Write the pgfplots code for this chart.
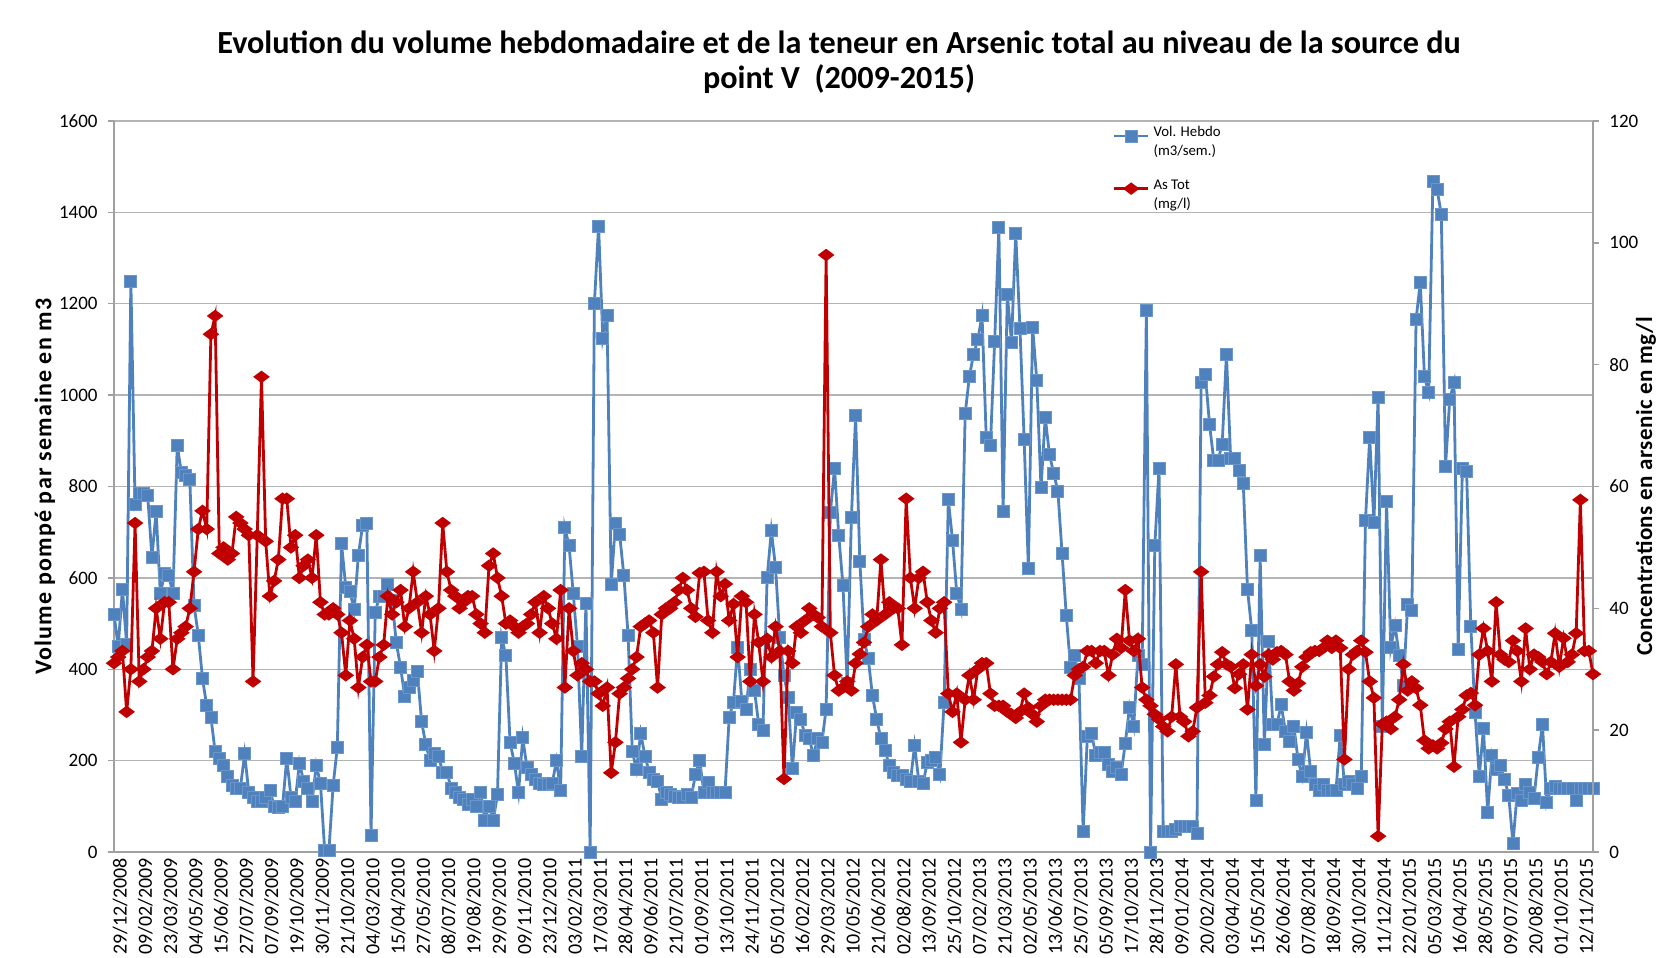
\documentclass[border=0pt]{standalone}
\usepackage{pgfplots}
\pgfplotsset{compat=1.18}
\usepackage{pgfplotstable}
\usepackage{fontspec}
\setmainfont{Carlito}
\definecolor{volblue}{HTML}{4F81BD}
\definecolor{voledge}{HTML}{6A96CC}
\definecolor{asred}{HTML}{C00000}
\definecolor{gridgray}{HTML}{B4B4B4}
\definecolor{axisgray}{HTML}{A0A0A0}

\pgfplotstableread[row sep=\\]{v\\
520\\450\\575\\455\\1250\\760\\785\\785\\780\\645\\
745\\565\\610\\605\\565\\890\\830\\825\\815\\540\\
475\\380\\320\\295\\220\\205\\190\\165\\145\\140\\
140\\215\\130\\120\\110\\110\\120\\135\\100\\98\\
100\\205\\120\\110\\195\\155\\140\\110\\190\\150\\
3\\3\\145\\230\\675\\580\\570\\530\\650\\715\\
720\\37\\525\\560\\560\\585\\550\\458\\405\\340\\
360\\375\\395\\285\\235\\200\\215\\210\\175\\175\\
140\\130\\120\\115\\105\\115\\100\\130\\70\\100\\
70\\125\\470\\430\\240\\195\\130\\250\\185\\170\\
160\\150\\148\\148\\150\\200\\135\\710\\670\\565\\
450\\210\\545\\0\\1200\\1370\\1125\\1175\\585\\720\\
695\\605\\475\\220\\180\\260\\210\\175\\160\\155\\
115\\130\\125\\122\\120\\120\\125\\120\\170\\200\\
130\\153\\131\\131\\131\\131\\295\\328\\448\\330\\
313\\400\\353\\280\\266\\601\\703\\623\\470\\386\\
339\\182\\306\\291\\255\\248\\211\\248\\240\\313\\
743\\840\\692\\583\\370\\732\\955\\637\\466\\423\\
342\\291\\248\\222\\189\\175\\168\\168\\160\\155\\
233\\155\\150\\196\\200\\207\\170\\327\\771\\682\\
567\\531\\959\\1041\\1090\\1121\\1175\\907\\891\\1118\\
1367\\745\\1220\\1116\\1354\\1147\\902\\620\\1149\\1032\\
797\\952\\870\\829\\790\\653\\517\\405\\431\\379\\
45\\254\\259\\212\\217\\217\\191\\176\\186\\170\\
238\\317\\275\\431\\411\\1186\\0\\670\\839\\45\\
45\\45\\50\\55\\55\\55\\55\\40\\1027\\1045\\
935\\857\\857\\893\\1090\\862\\862\\835\\806\\575\\
486\\113\\649\\235\\461\\280\\280\\322\\264\\243\\
275\\202\\165\\261\\176\\149\\134\\149\\134\\134\\
134\\256\\149\\155\\149\\139\\165\\726\\907\\722\\
996\\275\\768\\447\\496\\431\\364\\541\\528\\1165\\
1247\\1040\\1006\\1468\\1450\\1395\\845\\991\\1027\\444\\
839\\834\\494\\306\\165\\270\\87\\212\\181\\189\\
160\\123\\19\\129\\113\\149\\130\\118\\207\\280\\
108\\140\\144\\139\\139\\139\\139\\113\\139\\139\\139\\139\\
}\voldata

\pgfplotstableread[row sep=\\]{v\\
31\\32\\33\\23\\30\\54\\28\\30\\32\\33\\
40\\35\\41\\41\\30\\35\\36\\37\\40\\46\\
53\\56\\53\\85\\88\\49\\50\\48\\49\\55\\
54\\53\\52\\28\\52\\78\\51\\42\\44.5\\48\\
58\\58\\50\\52\\45\\47\\48\\45\\52\\41\\
39\\39\\40\\39\\36\\29\\38\\35\\27\\32\\
34\\28\\28\\32\\34\\42\\39\\41\\43\\37\\
40\\46\\41\\36\\42\\39\\33\\40\\54\\46\\
43\\42\\40\\41\\42\\42\\39\\37.5\\36\\47\\
49\\45\\42\\37.5\\38\\37\\36\\37\\37.5\\39\\
41\\36\\42\\40\\37.5\\35\\43\\27\\40\\33\\
29\\31\\30\\28\\28\\26\\24\\27\\13\\18\\
26\\27\\28.5\\30\\32\\37\\37.5\\38\\36\\27\\
39\\40\\40\\41\\43\\45\\43\\40\\38.6\\45.8\\
46\\38\\36\\46\\42\\44\\38\\40.7\\32\\42\\
41\\28\\39\\34.4\\28\\35\\32\\37\\33\\12\\
33\\31\\37\\36\\38\\40\\39\\38.5\\37\\98\\
36\\29\\26.5\\27\\28\\26.5\\31\\32.5\\34.4\\37\\
39\\38\\48\\39\\41\\40\\40\\34\\58\\45\\
40\\45\\46\\41\\38\\36\\40\\41\\26\\23\\
26\\18\\25\\29\\25\\30\\31\\31\\26\\24\\
24\\24\\23\\22.6\\22\\23\\26\\23.7\\22.6\\21.4\\
24\\25\\25\\25\\25\\25\\25\\25\\29\\30\\
30.4\\33\\33\\31\\33\\33\\29\\32.4\\35\\33.5\\
43\\34.7\\33\\35\\27\\25\\24\\22.6\\21.8\\20.6\\
19.8\\22.2\\30.8\\22.2\\21.4\\19\\19.8\\23.7\\46\\24.5\\
25.7\\28.8\\30.8\\32.8\\30.8\\30.4\\26.9\\29.2\\30.8\\23.4\\
32.4\\27.3\\30.8\\28.8\\32.4\\31.6\\32.8\\33\\32.4\\28\\
26.5\\27.7\\30.4\\32\\32.8\\33\\33\\33.5\\34.7\\33.5\\
34.7\\33.5\\15.2\\30\\32.4\\33\\34.7\\32.8\\28\\25.3\\
2.6\\21\\21.4\\20.2\\22.2\\25\\30.8\\26.5\\28\\26.9\\
24.1\\18.3\\17\\17.5\\17\\17.9\\20.2\\21.4\\14\\22.2\\
23.4\\25.7\\26.1\\24.1\\32.4\\36.7\\33\\28\\41\\32.4\\
31.6\\31.2\\34.7\\33\\28\\36.7\\30\\32.4\\32\\31.2\\
29.2\\31.2\\35.9\\30.4\\35.1\\31.2\\32.4\\35.9\\57.8\\33\\33\\29.2\\
}\asdata

\begin{document}
\begin{tikzpicture}
\pgfplotsset{
  common/.style={
    scale only axis, width=739.5bp, height=365.5bp,
    at={(0,0)}, anchor=south west,
    xmin=0, xmax=351, clip=false,
    axis line style={draw=axisgray, line width=0.7bp},
    tick label style={font=\fontsize{9.5bp}{11bp}\selectfont},
    /pgf/number format/assume math mode=true,
    /pgf/number format/1000 sep={},
    tick align=outside, major tick length=3bp,
    ytick style={draw=axisgray, line width=0.7bp},
    xtick style={draw=none},
  }
}
\begin{axis}[common,
  ymin=0, ymax=1600, ytick={0,200,...,1600},
  axis x line*=bottom, axis y line*=left,
  ymajorgrids, grid style={draw=gridgray, line width=0.7bp},
  xtick={0,6,...,348},
  xticklabels={29/12/2008,09/02/2009,23/03/2009,04/05/2009,15/06/2009,27/07/2009,07/09/2009,19/10/2009,30/11/2009,21/10/2010,04/03/2010,15/04/2010,27/05/2010,08/07/2010,19/08/2010,29/09/2010,09/11/2010,23/12/2010,03/02/2011,17/03/2011,28/04/2011,09/06/2011,21/07/2011,01/09/2011,13/10/2011,24/11/2011,05/01/2012,16/02/2012,29/03/2012,10/05/2012,21/06/2012,02/08/2012,13/09/2012,25/10/2012,07/02/2013,21/03/2013,02/05/2013,13/06/2013,25/07/2013,05/09/2013,17/10/2013,28/11/2013,09/01/2014,20/02/2014,03/04/2014,15/05/2014,26/06/2014,07/08/2014,18/09/2014,30/10/2014,11/12/2014,22/01/2015,05/03/2015,16/04/2015,28/05/2015,09/07/2015,20/08/2015,01/10/2015,12/11/2015},
  xticklabel style={rotate=90, anchor=east, inner sep=0pt, yshift=-3bp, font=\fontsize{10bp}{12bp}\selectfont},
  yticklabel style={inner sep=0pt, xshift=-5bp},
  title={Evolution du volume hebdomadaire et de la teneur en Arsenic total au niveau de la source du\\point V~~(2009-2015)},
  title style={font=\bfseries\fontsize{16.1bp}{17.6bp}\selectfont, align=center, at={(0.4902,1)}, anchor=south, inner sep=0pt, yshift=7.5bp},
  ylabel={Volume pompé par semaine en m3},
  ylabel style={font=\bfseries\fontsize{12bp}{13bp}\selectfont\addfontfeatures{LetterSpace=5}, at={(axis description cs:-0.0467,0.5)}, anchor=center, rotate=0},
]
\addplot[volblue, line width=1.4bp, mark=square*, mark size=3bp, mark options={fill=volblue, draw=voledge, line width=0.4bp}] table[x expr=\coordindex, y=v]{\voldata};
\end{axis}
\begin{axis}[common,
  ymin=0, ymax=120, ytick={0,20,...,120},
  axis y line*=right, axis x line=none,
  yticklabel style={inner sep=0pt, xshift=5bp},
  ylabel={Concentrations en arsenic en mg/l},
  ylabel style={font=\bfseries\fontsize{11.5bp}{13bp}\selectfont\addfontfeatures{LetterSpace=2}, at={(axis description cs:1.0358,0.5)}, anchor=center, rotate=0},
  legend style={at={(0.675,1.003)}, anchor=north west, draw=none, fill=none, font=\fontsize{7.4bp}{9.6bp}\selectfont, row sep=9.5bp, inner sep=0pt},
  legend cell align=left,
]
\addlegendimage{volblue, line width=1.4bp, mark=square*, mark size=3bp, mark options={fill=volblue, draw=voledge, line width=0.4bp}}
\addlegendentry{\begin{tabular}{@{}l@{}}Vol. Hebdo\\(m3/sem.)\end{tabular}}
\addplot[asred, line width=1.4bp, mark=diamond*, mark size=3bp, mark options={fill=asred, draw=asred, rotate=90}] table[x expr=\coordindex, y=v]{\asdata};
\addlegendentry{\begin{tabular}{@{}l@{}}As Tot\\(mg/l)\end{tabular}}
\end{axis}
\pgfresetboundingbox
\path[use as bounding box] (-57bp,-53bp) rectangle (781bp,426bp);
\end{tikzpicture}
\end{document}
